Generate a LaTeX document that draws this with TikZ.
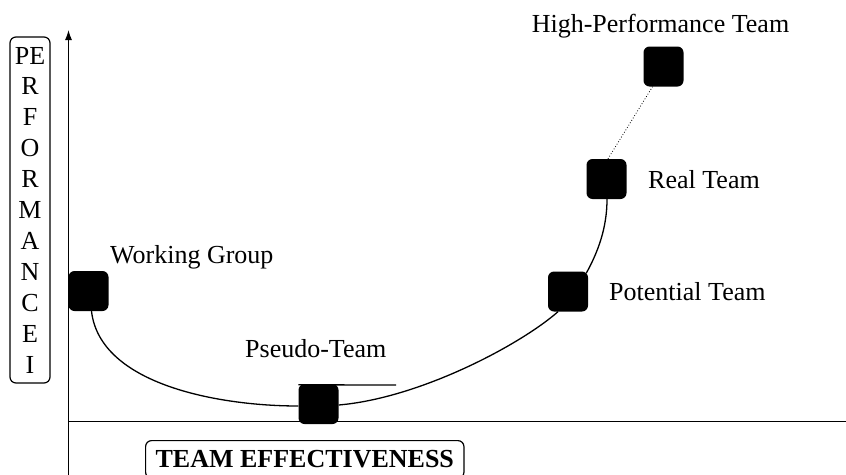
\documentclass[tikz,border=0pt]{standalone}
\usepackage{fontspec}
\setmainfont{Liberation Serif}
\usetikzlibrary{arrows.meta}
\begin{document}
\begin{tikzpicture}[x=1pt,y=-1pt,
  lbl/.style={font=\fontsize{26}{31}\selectfont, inner sep=0pt},
  blk/.style={fill=black, rounded corners=6pt, minimum size=40pt, inner sep=0pt},
  curve/.style={line width=1.3pt},
  axis/.style={line width=1.2pt},
  frame/.style={draw, line width=1.2pt, rounded corners=6pt}]
\useasboundingbox (0,0) rectangle (846,474);
\fill[white] (0,0) rectangle (846,474);

% axes
\coordinate (ybot) at (68.5,480);
\coordinate (ytop) at (68.5,30);
\coordinate (xleft) at (68.5,421.5);
\coordinate (xright) at (857,421.5);
\draw[axis, -{Latex[length=10pt,width=7pt]}] (ybot) -- (ytop);
\draw[axis, -{Latex[length=10pt,width=7pt]}] (xleft) -- (xright);

% axis titles
\node[frame, minimum width=40pt, minimum height=346pt, inner sep=0pt, align=center,
      font=\fontsize{26}{30.9}\selectfont] (perf) at (30,210)
  {PE\\R\\F\\O\\R\\M\\A\\N\\C\\E\\I};
\node[frame, anchor=north west, inner xsep=10pt, inner ysep=10pt,
      font=\bfseries\fontsize{26}{31}\selectfont] (eff) at (145,440) {TEAM EFFECTIVENESS};

% stages
\node[blk] (wg) at (88.5,291) {};
\node[blk] (ps) at (318.5,404) {};
\node[blk] (pt) at (568,291.5) {};
\node[blk] (rt) at (606.5,179) {};
\node[blk] (hp) at (663.5,66.5) {};

% performance curve
\draw[curve] ([xshift=3pt]wg.south) .. controls (100,385) and (220,406) .. ([yshift=-2pt]ps.west);
\draw[curve] ([yshift=-1pt]ps.east) .. controls (420,398) and (520,345) .. ([xshift=-10pt]pt.south);
\draw[curve] ([shift={(-2pt,-2pt)}]pt.north east) .. controls (598,252) and (607,228) .. ([xshift=0.5pt]rt.south);
\draw[dotted, line width=0.8pt] ([xshift=1.5pt]rt.north) -- ([xshift=-11pt]hp.south);

% flat line over the pseudo-team
\coordinate (psend) at (396,385);
\draw[curve] ([yshift=-1pt]ps.north west) -- (psend);

% stage labels
\node[lbl, anchor=base] (hpl) at (660.5,32) {High-Performance Team};
\node[lbl, anchor=base west] (rtl) at (648,188) {Real Team};
\node[lbl, anchor=base west] (ptl) at (609,300) {Potential Team};
\node[lbl, anchor=base west] (wgl) at (110,263) {Working Group};
\node[lbl, anchor=base west] (psl) at (245,357) {Pseudo-Team};
\end{tikzpicture}
\end{document}
